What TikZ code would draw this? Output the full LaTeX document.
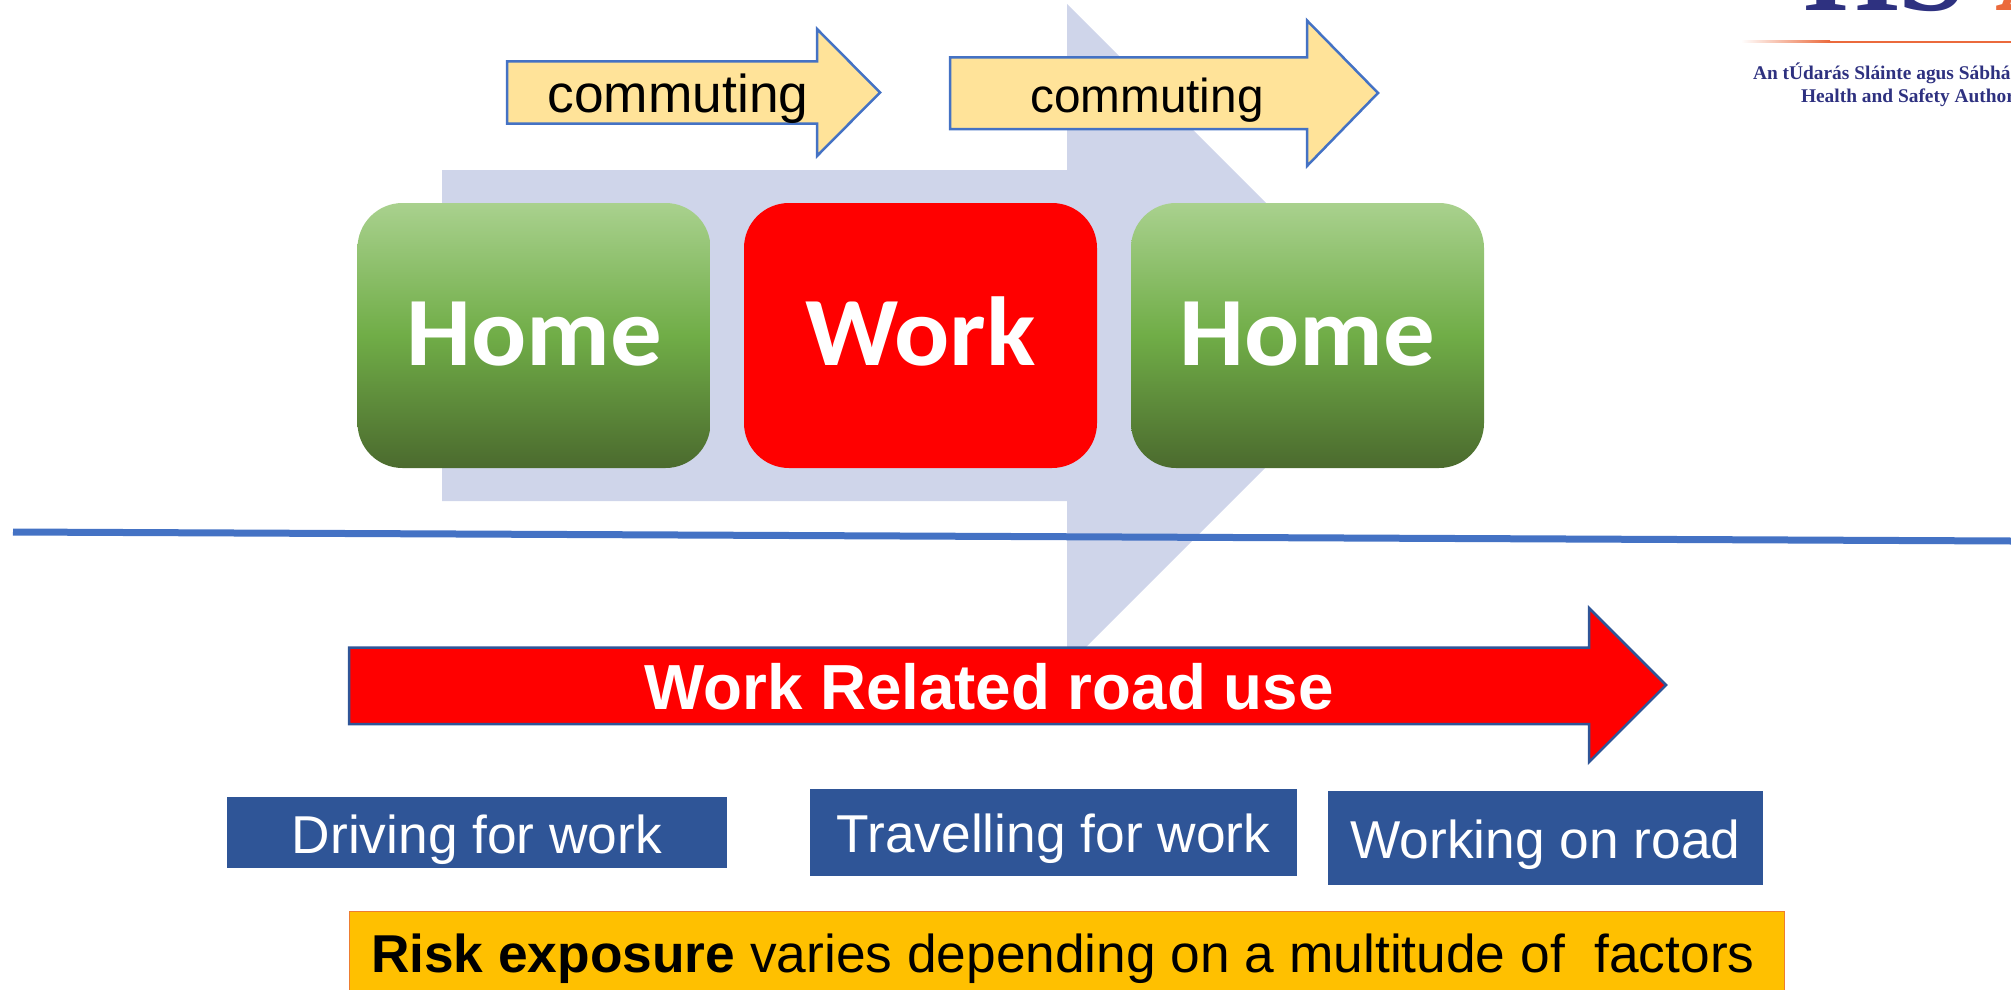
\documentclass[tikz,border=0pt]{standalone}
\usepackage{fontspec}
\setmainfont{Liberation Sans}
\newfontfamily\calib{Carlito}
\newfontfamily\logofont{Liberation Serif}
\definecolor{bigarrow}{HTML}{CFD5EA}
\definecolor{lineblue}{HTML}{4472C4}
\definecolor{commfill}{HTML}{FFE399}
\definecolor{boxblue}{HTML}{2F5597}
\definecolor{gold}{HTML}{FFC000}
\definecolor{goldedge}{HTML}{ED7D31}
\definecolor{greenA}{HTML}{A9D18E}
\definecolor{greenB}{HTML}{70AD47}
\definecolor{greenC}{HTML}{4B6A2E}
\definecolor{logoblue}{HTML}{2E3180}
\definecolor{logoorange}{HTML}{EB6A3C}
\tikzset{
  every node/.style={inner sep=0pt,outer sep=0pt},
  place/.style={rounded corners=45pt,minimum width=353pt,minimum height=265pt},
  homebox/.style={place,top color=greenA,bottom color=greenC,middle color=greenB},
  workbox/.style={place,fill=red},
  placetext/.style={font=\calib\bfseries\fontsize{98}{98}\selectfont,text=white,anchor=base,xscale=1.05,transform shape},
  commarrow/.style={draw=lineblue,line width=2.5pt,fill=commfill,miter limit=10},
  commtext/.style={anchor=base,text=black},
  rolebox/.style={fill=boxblue,draw=none},
  roletext/.style={anchor=base,text=white,font=\fontsize{53.3}{53.3}\selectfont},
  logotext/.style={font=\logofont\bfseries\fontsize{19.4}{19.4}\selectfont,text=logoblue,anchor=base west},
}
\begin{document}
\begin{tikzpicture}[x=1pt,y=-1pt]
\useasboundingbox (0,0) rectangle (2011,990);
\clip (0,0) rectangle (2011,990);
% big pale arrow
\fill[bigarrow] (442,170) -- (1067,170) -- (1067,4) -- (1398,335) -- (1067,666) -- (1067,501) -- (442,501) -- cycle;
% boxes
\node[homebox] (home1) at (534,335.5) {};
\node[workbox] (work) at (920.5,335.5) {};
\node[homebox] (home2) at (1307.5,335.5) {};
\node[placetext] (home1t) at (534,365) {Home};
\node[placetext] (workt) at (920.5,365) {Work};
\node[placetext] (home2t) at (1307.5,365) {Home};
% commuting arrows
\draw[commarrow] (507,61.5) -- (817,61.5) -- (817,29) -- (880,92.5) -- (817,156) -- (817,123.5) -- (507,123.5) -- cycle;
\node[commtext,font=\fontsize{53.3}{53.3}\selectfont] (c1) at (678,113) {commuting};
\draw[commarrow] (950,57.5) -- (1307,57.5) -- (1307,20.5) -- (1378,93) -- (1307,166) -- (1307,129) -- (950,129) -- cycle;
\node[commtext,font=\fontsize{47.7}{47.7}\selectfont] (c2) at (1147,112) {commuting};
% divider
\coordinate (lineL) at (13,532);
\coordinate (lineR) at (2011,541);
\draw[lineblue,line width=7pt] (lineL) -- (lineR);
% red arrow
\draw[fill=red,draw=boxblue,line width=2.5pt,miter limit=10] (349,647.5) -- (1589,647.5) -- (1589,608) -- (1666,685) -- (1589,762) -- (1589,724) -- (349,724) -- cycle;
\node[anchor=base,text=white,font=\bfseries\fontsize{63.7}{63.7}\selectfont] (wr) at (989,709) {Work Related road use};
% role boxes
\node[rolebox,minimum width=500pt,minimum height=71pt] (b1) at (477,832.5) {};
\node[roletext] (b1t) at (477,853) {Driving for work};
\node[rolebox,minimum width=487pt,minimum height=87pt] (b2) at (1053.5,832.5) {};
\node[roletext] (b2t) at (1053.5,852) {Travelling for work};
\node[rolebox,minimum width=435.5pt,minimum height=94pt] (b3) at (1545.5,838) {};
\node[roletext] (b3t) at (1545.5,858) {Working on road};
% risk banner
\fill[gold] (349,911) rectangle (1784,995);
\draw[goldedge,line width=1pt] (349,995) -- (349,911) -- (1784,911) -- (1784,995);
\node[anchor=base west,text=black,font=\fontsize{53.3}{53.3}\selectfont] (risk) at (371,972) {\textbf{Risk exposure} varies depending on a multitude of\ \ factors};
% logo
\node[anchor=base west,text=logoblue,font=\logofont\bfseries\fontsize{122}{122}\selectfont] (hs) at (1804,11) {HS};
\node[anchor=base west,text=logoorange,font=\logofont\bfseries\fontsize{122}{122}\selectfont] (a) at (1995,11) {A};
\shade[left color=white,right color=logoorange] (1741,41) rectangle (1830,43);
\fill[logoorange] (1830,41) rectangle (2011,43);
\node[logotext] (l1) at (1753,79) {An tÚdarás Sláinte agus Sábhá};
\node[logotext] (l2) at (1801,102.5) {Health and Safety Author};
\end{tikzpicture}
\end{document}
